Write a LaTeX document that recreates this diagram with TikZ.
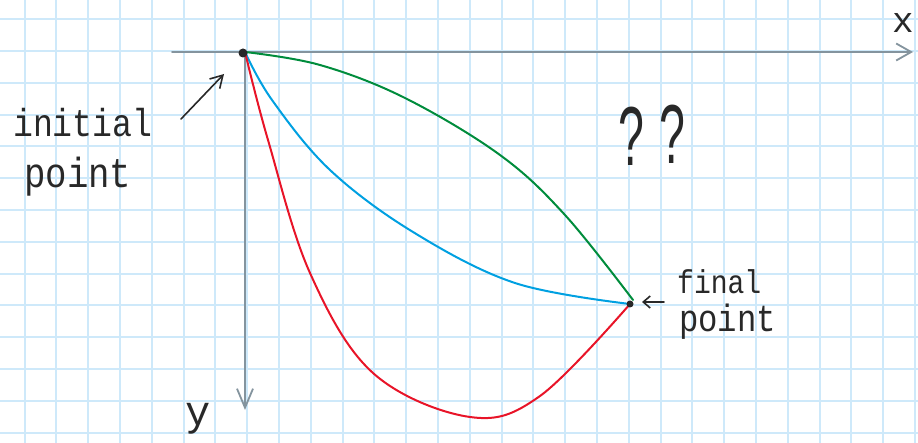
\documentclass[tikz,border=0pt]{standalone}
\usepackage{fontspec}
\setmainfont{Liberation Sans}
\newfontfamily\handfont{Liberation Mono}
\usetikzlibrary{arrows.meta}
\definecolor{gridblue}{RGB}{206,233,250}
\definecolor{axisgray}{RGB}{132,148,158}
\definecolor{inkdark}{RGB}{40,40,40}
\definecolor{curvegreen}{RGB}{0,140,60}
\definecolor{curveblue}{RGB}{0,160,225}
\definecolor{curvered}{RGB}{232,20,40}
\tikzset{
  gridline/.style={draw=gridblue, line width=2pt},
  axisline/.style={draw=axisgray, line width=1.8pt, line cap=round},
  curveline/.style={line width=2pt, line cap=round, line join=round},
  pointer/.style={draw=inkdark, line width=1.6pt, line cap=round},
  hand/.style={text=inkdark, inner sep=0pt, anchor=base west},
  dotmark/.style={fill=inkdark, draw=none, circle, inner sep=0pt},
}
\begin{document}
\begin{tikzpicture}[x=1pt, y=-1pt]
\useasboundingbox (0,0) rectangle (918,443);
% grid
\begin{scope}
\clip (0,0) rectangle (918,443);
\foreach \k in {0,...,28} \draw[gridline] ({24.6+31.8*\k},0) -- ({24.6+31.8*\k},443);
\foreach \k in {0,...,13} \draw[gridline] (0,{19.2+31.8*\k}) -- (918,{19.2+31.8*\k});
\end{scope}
% axes
\coordinate (xstart) at (172,52);
\coordinate (xend) at (913,52);
\coordinate (ystart) at (245,52);
\coordinate (yend) at (245,410);
\draw[axisline, -{Straight Barb[length=15pt,width=17pt,line width=1.8pt]}] (xstart) -- (xend);
\draw[axisline, -{Straight Barb[length=19pt,width=16pt,line width=1.8pt]}] (ystart) -- (yend);
% points
\coordinate (init) at (245,52);
\coordinate (final) at (630,304);
% curves
\draw[curveline, curvegreen] plot[smooth, tension=0.6] coordinates {(init) (320,65) (405,98) (500,155) (565,215) (633,300)};
\draw[curveline, curveblue] plot[smooth, tension=0.6] coordinates {(init) (272,100) (330,170) (413,232) (515,283) (final)};
\draw[curveline, curvered] plot[smooth, tension=0.6] coordinates {(init) (268,140) (310,273) (373,373) (470,417) (540,396) (final)};
\node[dotmark, minimum size=9pt] (initdot) at (243,53) {};
\node[dotmark, minimum size=7pt] (finaldot) at (final) {};
% labels
\node[hand, xscale=0.85, font=\handfont\fontsize{39}{39}\selectfont] (initl) at (13,137) {initial};
\node[hand, xscale=0.85, font=\handfont\fontsize{42}{42}\selectfont] (initp) at (24,188) {point};
\node[hand, xscale=0.85, font=\handfont\fontsize{33}{33}\selectfont] (finl) at (677,294) {final};
\node[hand, xscale=0.85, font=\handfont\fontsize{38}{38}\selectfont] (finp) at (679,332) {point};
\node[text=inkdark, inner sep=0pt, anchor=base, font=\handfont\fontsize{36}{36}\selectfont] (xlab) at (903,33) {x};
\node[text=inkdark, inner sep=0pt, anchor=base, font=\handfont\fontsize{42}{42}\selectfont] (ylab) at (198,425) {y};
\node[text=inkdark, inner sep=0pt, anchor=base, xscale=0.75, yscale=1.35, font=\fontsize{62}{62}\selectfont] (q1) at (631,166) {?};
\node[text=inkdark, inner sep=0pt, anchor=base, xscale=0.75, yscale=1.35, font=\fontsize{62}{62}\selectfont] (q2) at (672,164) {?};
% pointers
\coordinate (iatail) at (181,119);
\coordinate (iahead) at (224,74);
\draw[pointer, -{Straight Barb[length=12pt,width=14pt,line width=1.6pt]}] (iatail) -- (iahead);
\coordinate (fatail) at (664,302);
\coordinate (fahead) at (642,302);
\draw[pointer, -{Straight Barb[length=7pt,width=12pt,line width=1.6pt]}] (fatail) -- (fahead);
\end{tikzpicture}
\end{document}
